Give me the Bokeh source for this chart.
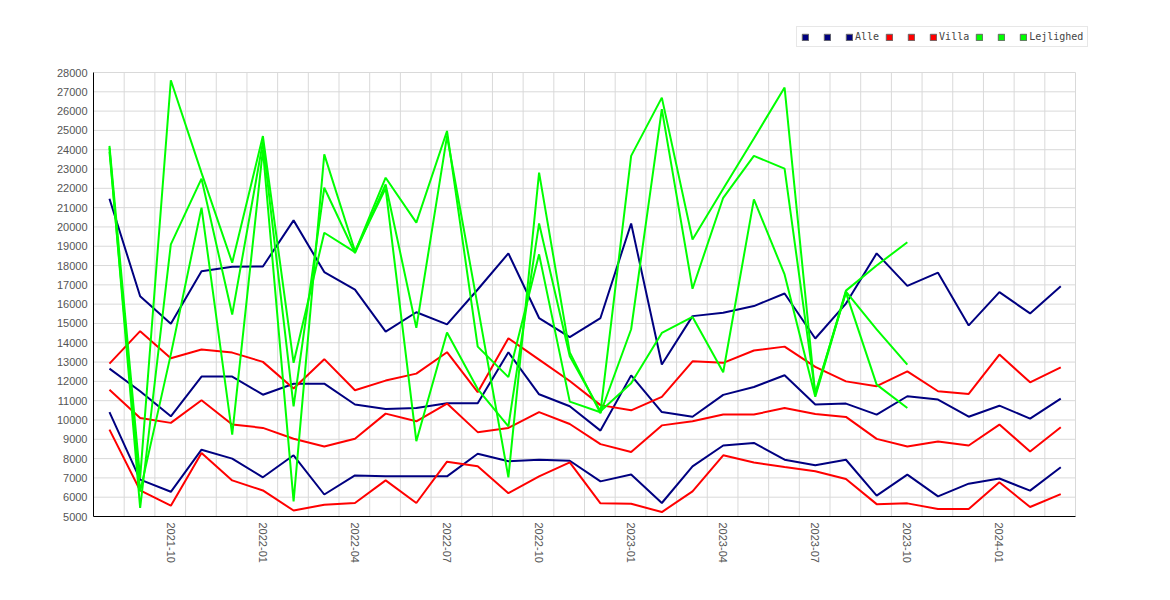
from bokeh.plotting import figure
from bokeh.models import FixedTicker, Legend, LegendItem, Range1d
from bokeh.embed import file_html
from bokeh.resources import INLINE

months = ["2021-08", "2021-09", "2021-10", "2021-11", "2021-12",
          "2022-01", "2022-02", "2022-03", "2022-04", "2022-05", "2022-06",
          "2022-07", "2022-08", "2022-09", "2022-10", "2022-11", "2022-12",
          "2023-01", "2023-02", "2023-03", "2023-04", "2023-05", "2023-06",
          "2023-07", "2023-08", "2023-09", "2023-10", "2023-11", "2023-12",
          "2024-01", "2024-02", "2024-03"]

alle_hi = [21460, 16410, 14980, 17710, 17940, 17950, 20340, 17660, 16750, 14580,
           15580, 14950, 16760, 18630, 15280, 14290, 15280, 20180, 12870, 15380,
           15550, 15900, 16550, 14220, 16030, 18630, 16950, 17630, 14900, 16620,
           15520, 16930]
alle_mid = [12660, 11490, 10190, 12250, 12250, 11310, 11880, 11880, 10800, 10570,
            10620, 10870, 10870, 13510, 11330, 10710, 9450, 12310, 10410, 10170,
            11300, 11710, 12320, 10800, 10850, 10280, 11230, 11060, 10170, 10740,
            10070, 11110]
alle_lo = [10410, 6910, 6280, 8460, 8000, 7030, 8170, 6140, 7130, 7080,
           7080, 7080, 8250, 7860, 7940, 7890, 6820, 7180, 5700, 7600,
           8680, 8810, 7940, 7650, 7940, 6080, 7170, 6040, 6700, 6970,
           6340, 7550]

villa_hi = [12920, 14600, 13200, 13650, 13490, 13010, 11630, 13150, 11540, 12040,
            12400, 13510, 11440, 14230, 13130, 12020, 10770, 10500, 11200, 13040,
            12960, 13600, 13800, 12750, 12000, 11750, 12520, 11490, 11350, 13390,
            11950, 12730]
villa_mid = [11570, 10100, 9850, 11020, 9770, 9590, 9030, 8630, 9030, 10330,
             9930, 10850, 9370, 9590, 10410, 9790, 8750, 8340, 9720, 9930,
             10280, 10280, 10620, 10310, 10160, 9020, 8630, 8890, 8680, 9760,
             8370, 9620]
villa_lo = [9500, 6350, 5560, 8290, 6870, 6350, 5310, 5610, 5700, 6870,
            5700, 7840, 7600, 6210, 7080, 7800, 5680, 5660, 5230, 6300,
            8170, 7800, 7560, 7340, 6940, 5640, 5680, 5390, 5390, 6770,
            5490, 6160]

lejl_a = [24200, 7000, 27600, 22800, 18150, 24710, 12960, 19700, 18700, 22550,
          20220, 24970, 13800, 12220, 18580, 10950, 10400, 23680, 26700, 19350,
          21980, 24580, 27220, 11300, 16700, 18000, 19210]
lejl_b = [24100, 5440, 19100, 22500, 15460, 24400, 10710, 22030, 18650, 22200,
          14770, 24700, 15900, 7030, 22810, 13500, 10350, 14700, 26100, 16800,
          21510, 23680, 23020, 11400, 16600, 11830, 10620]
lejl_c = [23900, 6300, 13400, 21000, 9240, 24000, 5780, 23760, 18750, 22000,
          8900, 14530, 11600, 9670, 20180, 13300, 10450, 11900, 14510, 15340,
          12470, 21430, 17540, 11200, 16650, 14690, 12870]

y_min, y_max = 5000, 28000
y_ticks = list(range(y_min, y_max + 1, 1000))

FONT = "Liberation Sans"
NAVY, RED, LIME = "#000080", "#ff0000", "#00ff00"
GRID = "#d9d9d9"

n = len(months)
xs = list(range(n))
# month boundaries (1st of each month); data sit mid-month
bounds = [i - 0.52 for i in range(n + 1)]

# The frame gets blank headroom above y_max (and a little room on the right)
# so the legend can sit inside it without being clipped.
PLOT_H = 444          # pixels spanned by y_min..y_max
PLOT_W = 982          # pixels spanned by the month boundaries
HEADROOM = 52
RIGHTROOM = 16
top = y_max + (y_max - y_min) * HEADROOM / PLOT_H
right = bounds[-1] + (bounds[-1] - bounds[0]) * RIGHTROOM / PLOT_W

p = figure(width=1150, height=580, output_backend="svg", toolbar_location=None,
           x_range=Range1d(bounds[0], right), y_range=Range1d(y_min, top),
           min_border_left=93, min_border_right=75 - RIGHTROOM,
           min_border_top=72 - HEADROOM, min_border_bottom=64)
p.outline_line_color = None
p.background_fill_color = "white"
p.border_fill_color = "white"
p.xgrid.visible = False
p.ygrid.visible = False

# grid lines limited to the data area
p.segment(x0=bounds, y0=[y_min] * len(bounds), x1=bounds, y1=[y_max] * len(bounds),
          line_color=GRID, line_width=1, level="underlay")
p.segment(x0=[bounds[0]] * len(y_ticks), y0=y_ticks,
          x1=[bounds[-1]] * len(y_ticks), y1=y_ticks,
          line_color=GRID, line_width=1, level="underlay")

label_idx = [i for i, m in enumerate(months) if m[5:] in ("01", "04", "07", "10")]
p.xaxis.ticker = FixedTicker(ticks=label_idx)
p.xaxis.major_label_overrides = {i: months[i] for i in label_idx}
p.xaxis.major_label_orientation = "vertical"
p.xaxis.bounds = (bounds[0], bounds[-1])
p.yaxis.ticker = FixedTicker(ticks=y_ticks)
p.yaxis.bounds = (y_min, y_max)

for ax in (p.xaxis[0], p.yaxis[0]):
    ax.major_tick_line_color = None
    ax.minor_tick_line_color = None
    ax.major_tick_out = 0
    ax.major_tick_in = 0
    ax.minor_tick_out = 0
    ax.major_label_standoff = 6
    ax.axis_line_color = "black"
    ax.axis_line_width = 1
    ax.major_label_text_font = FONT
    ax.major_label_text_font_size = "11px"
    ax.major_label_text_color = "#555555"

series = [
    (alle_hi, NAVY), (alle_mid, NAVY), (alle_lo, NAVY),
    (villa_hi, RED), (villa_mid, RED), (villa_lo, RED),
    (lejl_a, LIME), (lejl_b, LIME), (lejl_c, LIME),
]
for ys, col in series:
    p.line(xs[:len(ys)], ys, line_color=col, line_width=2)

names = ["", "", "Alle", "", "", "Villa", "", "", "Lejlighed"]
nan = float("nan")
items = []
for (ys, col), name in zip(series, names):
    # a legend-only swatch: one NaN quad, never drawn in the plot itself
    r = p.quad(left=[nan], right=[nan], top=[nan], bottom=[nan], fill_color=col,
               line_color="#666666", line_width=1)
    items.append(LegendItem(label=name, renderers=[r]))

# legend placed by its bottom-left corner, in frame pixels
legend = Legend(items=items, orientation="horizontal",
                location=(703, PLOT_H + 25),
                glyph_width=8, glyph_height=8, label_standoff=2,
                label_width=6, spacing=6, padding=4, margin=0,
                label_height=10,
                label_text_font="DejaVu Sans Mono",
                label_text_font_size="10px",
                label_text_color="#444444",
                border_line_color="#d0d0d0", border_line_width=1,
                background_fill_color="white", background_fill_alpha=1.0)
p.add_layout(legend, "center")

open("out.html", "w").write(file_html(p, INLINE))
